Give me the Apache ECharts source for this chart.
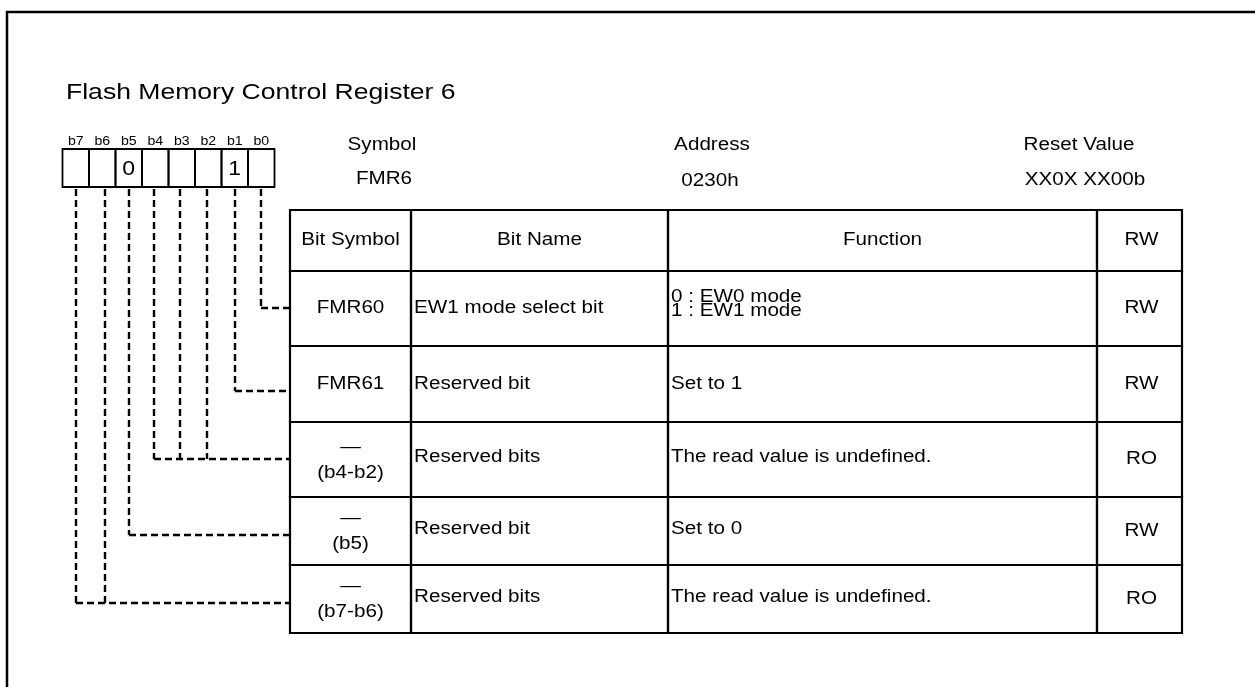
<!DOCTYPE html>
<html>
<head>
<meta charset="utf-8">
<script src="https://cdn.jsdelivr.net/npm/echarts@6/dist/echarts.min.js"></script>
<style>
html,body{margin:0;padding:0;background:#fff;}
#chart{width:1255px;height:687px;}
</style>
</head>
<body>
<div id="chart"></div>
<script>
// ---------------- data ----------------
const titleText = 'Flash Memory Control Register 6';
const bitLabels = ['b7','b6','b5','b4','b3','b2','b1','b0'];
const bitValues = ['','','0','','','','1',''];
const infoLabels = ['Symbol','Address','Reset Value'];
const infoValues = ['FMR6','0230h','XX0X XX00b'];
const headers = ['Bit Symbol','Bit Name','Function','RW'];
const bitSymbols = ['FMR60','FMR61','(b4-b2)','(b5)','(b7-b6)'];
const reservedMark = [false,false,true,true,true];
const bitNames = ['EW1 mode select bit','Reserved bit','Reserved bits','Reserved bit','Reserved bits'];
const functions = ['0 : EW0 mode\n1 : EW1 mode','Set to 1','The read value is undefined.','Set to 0','The read value is undefined.'];
const access = ['RW','RW','RO','RW','RO'];
const rowBits = [[0],[1],[4,3,2],[5],[7,6]];

// ---------------- layout ----------------
const W = 1255, H = 687;
const FONT = '"Liberation Sans", Arial, Helvetica, sans-serif';
const L = {
  frameX: 7, frameY: 12,
  titleX: 66, titleY: 93,
  boxLeft: 62.5, boxW: 26.5, boxTop: 149, boxBottom: 187, bitLabelY: 142,
  infoLabelX: [382, 712, 1079], infoValueX: [384, 710, 1085],
  infoLabelY: 145, infoValueY: [179.5, 181.5, 180],
  cols: [290, 411, 668, 1097, 1182],
  rows: [210, 271, 346, 422, 497, 565, 633],
  connX: [76, 105, 129, 154, 180, 207, 235, 261],
  connY: [308, 391, 459, 535, 603]
};
const TXT = {size: 17.5, sx: 1.18};

function txt(api, x, y, text, size, sx, align, extra) {
  const p = api.coord([x, y]);
  return {
    type: 'text', x: p[0], y: p[1], scaleX: sx,
    style: Object.assign({
      text: text, x: 0, y: 0, fill: '#000',
      font: size + 'px ' + FONT,
      fontSize: size, fontFamily: FONT,
      align: align, textAlign: align,
      verticalAlign: 'middle', textVerticalAlign: 'middle'
    }, extra || {})
  };
}
function rect(api, x0, y0, x1, y1, lw) {
  const a = api.coord([x0, y0]), b = api.coord([x1, y1]);
  return {
    type: 'rect',
    shape: {x: a[0], y: a[1], width: b[0] - a[0], height: b[1] - a[1]},
    style: {fill: 'none', stroke: '#000', lineWidth: lw || 2}
  };
}
function poly(api, pts, lw, dash) {
  return {
    type: 'polyline',
    shape: {points: pts.map(q => api.coord(q))},
    style: {fill: 'none', stroke: '#000', lineWidth: lw || 2, lineDash: dash || null}
  };
}

const chart = echarts.init(document.getElementById('chart'), null, {renderer: 'canvas'});
const option = {
  animation: false,
  backgroundColor: '#fff',
  grid: {left: 0, right: 0, top: 0, bottom: 0},
  xAxis: {type: 'value', min: 0, max: W, show: false},
  yAxis: {type: 'value', min: 0, max: H, inverse: true, show: false},
  series: [
    { // frame + title
      type: 'custom', silent: true,
      data: [[0, 0]],
      renderItem: function (params, api) {
        return {type: 'group', children: [
          poly(api, [[L.frameX, H], [L.frameX, L.frameY], [W, L.frameY]], 2.5),
          txt(api, L.titleX, L.titleY, titleText, 21.5, 1.235, 'left')
        ]};
      }
    },
    { // symbol / address / reset value
      type: 'custom', silent: true,
      data: infoLabels.map((_, i) => [i, 0]),
      renderItem: function (params, api) {
        const i = params.dataIndex;
        return {type: 'group', children: [
          txt(api, L.infoLabelX[i], L.infoLabelY, infoLabels[i], TXT.size, TXT.sx, 'center'),
          txt(api, L.infoValueX[i], L.infoValueY[i], infoValues[i], TXT.size, TXT.sx, 'center')
        ]};
      }
    },
    { // bit boxes
      type: 'custom', silent: true,
      data: bitLabels.map((_, i) => [i, 0]),
      renderItem: function (params, api) {
        const i = params.dataIndex;
        const x0 = L.boxLeft + i * L.boxW, x1 = x0 + L.boxW, cx = (x0 + x1) / 2;
        const ch = [
          rect(api, x0, L.boxTop, x1, L.boxBottom, 1.8),
          txt(api, cx, L.bitLabelY, bitLabels[i], 12.5, 1.13, 'center')
        ];
        if (bitValues[i]) ch.push(txt(api, cx, (L.boxTop + L.boxBottom) / 2 + 1, bitValues[i], 21, 1.1, 'center'));
        return {type: 'group', children: ch};
      }
    },
    { // dashed connectors
      type: 'custom', silent: true,
      data: rowBits.map((_, i) => [i, 0]),
      renderItem: function (params, api) {
        const r = params.dataIndex;
        const y = L.connY[r];
        const xs = rowBits[r].map(b => L.connX[7 - b]);
        const ch = xs.map(x => poly(api, [[x, L.boxBottom + 2], [x, y]], 2.4, [7, 4]));
        ch.push(poly(api, [[Math.min.apply(null, xs), y], [L.cols[0], y]], 2.4, [7, 4]));
        return {type: 'group', children: ch};
      }
    },
    { // table
      type: 'custom', silent: true,
      data: [-1].concat(bitSymbols.map((_, i) => i)).map(v => [v, 0]),
      renderItem: function (params, api) {
        const r = params.dataIndex - 1;
        const top = L.rows[r + 1], bot = L.rows[r + 2], mid = (top + bot) / 2;
        const c = L.cols;
        const S = TXT.size, X = TXT.sx;
        const ch = [];
        for (let k = 0; k < 4; k++) ch.push(rect(api, c[k], top, c[k + 1], bot, 2.2));
        if (r < 0) {
          for (let k = 0; k < 4; k++) ch.push(txt(api, (c[k] + c[k + 1]) / 2 + (k === 3 ? 2 : 0), mid, headers[k], S, X, 'center'));
        } else {
          const c0 = (c[0] + c[1]) / 2;
          if (reservedMark[r]) {
            ch.push(txt(api, c0, mid - 12.5, '\u2014', S, X, 'center'));
            ch.push(txt(api, c0, mid + 13.5, bitSymbols[r], S, X, 'center'));
          } else {
            ch.push(txt(api, c0, mid, bitSymbols[r], S, X, 'center'));
          }
          const dy = reservedMark[r] ? -2 : 0;
          ch.push(txt(api, c[1] + 3, mid + dy, bitNames[r], S, X, 'left'));
          const multi = functions[r].indexOf('\n') >= 0;
          ch.push(txt(api, c[2] + 3, multi ? mid - 4 : mid + dy, functions[r], S, X, 'left', multi ? {lineHeight: 14} : null));
          ch.push(txt(api, (c[3] + c[4]) / 2 + 2, mid, access[r], S, X, 'center'));
        }
        return {type: 'group', children: ch};
      }
    }
  ]
};
chart.setOption(option);
</script>
</body>
</html>
